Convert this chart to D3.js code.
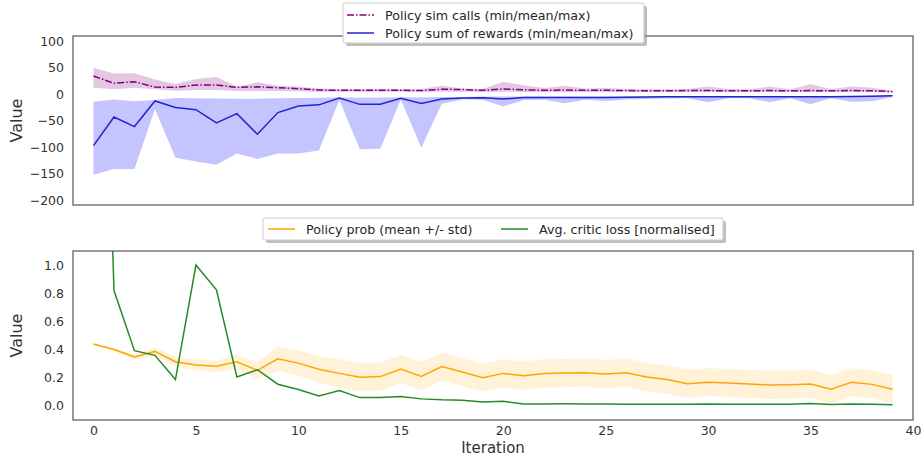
<!DOCTYPE html>
<html>
<head>
<meta charset="utf-8">
<script src="https://cdn.jsdelivr.net/npm/d3@7"></script>
<style>
  body { margin: 0; background: #fff; }
  svg { display: block; font-family: "DejaVu Sans", sans-serif; }
</style>
</head>
<body>
<svg id="chart" width="921" height="456"></svg>
<script>
// values
var iterations = [0, 1, 2, 3, 4, 5, 6, 7, 8, 9, 10, 11, 12, 13, 14, 15, 16, 17, 18, 19,
                  20, 21, 22, 23, 24, 25, 26, 27, 28, 29, 30, 31, 32, 33, 34, 35, 36, 37, 38, 39];

var simMean = [34.5, 20.7, 23.7, 13.7, 13.0, 17.5, 17.5, 13.0, 14.0, 12.5, 10.6, 8.0, 7.5, 7.5, 7.5, 7.5, 7.0, 9.5, 9.0, 7.5,
               10.0, 8.5, 7.5, 8.0, 7.5, 7.5, 7.0, 6.5, 6.5, 7.0, 7.0, 6.5, 6.5, 7.0, 6.5, 7.0, 6.5, 7.0, 6.5, 5.0];
var simMax = [50, 39, 39.5, 28, 19.5, 29, 32.5, 14, 22.5, 16, 14, 11, 10, 10, 10.5, 10, 10, 16, 11, 10,
              23.5, 17, 12, 16, 11, 12, 10, 9.5, 9.5, 10, 14.5, 10, 9.5, 14.5, 9.5, 19, 10, 14.5, 12.5, 6.5];
var simMin = [12.5, 9.5, 12.5, 9.5, 6.5, 8, 8, 6, 6, 6, 5.5, 5, 5, 5, 5, 5, 5, 5, 5, 4.5,
              5, 4.5, 4.5, 4.5, 4.5, 4.5, 4.5, 4.5, 4.5, 4.5, 4.5, 4.5, 4.5, 4.5, 4.5, 4.5, 4.5, 4.5, 4.5, 4];

var rewardMean = [-97, -43, -61, -12.6, -25, -29, -54, -36.5, -75.5, -34.5, -22, -20, -7, -19, -19, -7.5, -17.6, -9, -7, -6.5,
                  -8.8, -6.3, -6.3, -6.3, -6, -6, -5.5, -5, -4.5, -4.5, -4.5, -4.5, -4.5, -4.5, -4.5, -4.5, -4.5, -4, -3.5, -2.6];
var rewardMin = [-152, -141, -141, -28, -120, -127, -133, -112, -122, -112, -112, -106, -10.7, -103.6, -103, -10, -101, -18, -10, -10.5,
                 -23, -11, -10.5, -17, -10.5, -12.6, -10, -9, -8, -7.5, -15, -7.5, -7.5, -15, -7.5, -19, -7.5, -14, -13, -5];
var rewardMax = [-14, -10, -13, -11, -7, -7.5, -8, -8.5, -8.5, -7.5, -7, -6.5, -6, -6, -6, -5.5, -5.5, -5, -5, -4,
                 -4, -4, -4, -4, -4, -4, -4, -4, -3.5, -3.5, -3.5, -3.5, -3.5, -3.5, -3.5, -3.5, -3.5, -3.5, -3, -2];

var probMean = [0.439, 0.401, 0.347, 0.387, 0.314, 0.29, 0.281, 0.314, 0.253, 0.335, 0.304, 0.26, 0.231, 0.203, 0.208, 0.262, 0.21, 0.279, 0.241, 0.2,
                0.231, 0.215, 0.231, 0.233, 0.236, 0.226, 0.236, 0.205, 0.187, 0.158, 0.168, 0.163, 0.156, 0.149, 0.151, 0.156, 0.118, 0.168, 0.153, 0.118];
var probStd = [0.005, 0.01, 0.02, 0.03, 0.035, 0.04, 0.04, 0.05, 0.06, 0.085, 0.09, 0.095, 0.1, 0.1, 0.1, 0.1, 0.1, 0.1, 0.1, 0.1,
               0.1, 0.1, 0.1, 0.1, 0.1, 0.1, 0.1, 0.1, 0.1, 0.1, 0.1, 0.1, 0.1, 0.1, 0.1, 0.1, 0.1, 0.1, 0.1, 0.1];

var criticLoss = [5.5, 0.819, 0.392, 0.359, 0.187, 1.0, 0.824, 0.205, 0.257, 0.154, 0.116, 0.071, 0.109, 0.059, 0.059, 0.066, 0.05, 0.043, 0.04, 0.028,
                  0.033, 0.014, 0.014, 0.015, 0.014, 0.013, 0.012, 0.012, 0.012, 0.012, 0.014, 0.012, 0.012, 0.012, 0.012, 0.017, 0.01, 0.013, 0.011, 0.009];

var topTicks = [100, 50, 0, -50, -100, -150, -200];
var bottomTicks = [0.0, 0.2, 0.4, 0.6, 0.8, 1.0];
var xTicks = [0, 5, 10, 15, 20, 25, 30, 35, 40];

var svg = d3.select('#chart');
var left = 73, right = 913;
var topPanel = {y0: 36, y1: 205};
var botPanel = {y0: 251, y1: 420};

var x = d3.scaleLinear().domain([-1, 40]).range([left, right]);
var yTop = d3.scaleLinear().domain([-209, 110]).range([topPanel.y1, topPanel.y0]);
var yBot = d3.scaleLinear().domain([-0.1, 1.1]).range([botPanel.y1, botPanel.y0]);

var defs = svg.append('defs');
[['clipTop', topPanel], ['clipBot', botPanel]].forEach(function(c) {
    defs.append('clipPath').attr('id', c[0])
        .append('rect')
        .attr('x', left).attr('y', c[1].y0)
        .attr('width', right - left).attr('height', c[1].y1 - c[1].y0);
});

var band = function(y, lo, hi) {
    return d3.area()
        .x(function(i) { return x(iterations[i]); })
        .y0(function(i) { return y(lo(i)); })
        .y1(function(i) { return y(hi(i)); });
};
var line = function(y, vals) {
    return d3.line()
        .x(function(i) { return x(iterations[i]); })
        .y(function(i) { return y(vals[i]); });
};
var idx = iterations.map(function(d, i) { return i; });

// ---- top panel
var gTop = svg.append('g').attr('clip-path', 'url(#clipTop)');
gTop.append('path')
    .attr('d', band(yTop, function(i) { return simMin[i]; }, function(i) { return simMax[i]; })(idx))
    .style('fill', 'purple').style('opacity', 0.22);
gTop.append('path')
    .attr('d', band(yTop, function(i) { return rewardMin[i]; }, function(i) { return rewardMax[i]; })(idx))
    .style('fill', '#0000ff').style('opacity', 0.23);
gTop.append('path')
    .attr('d', line(yTop, simMean)(idx))
    .style('fill', 'none').style('stroke', '#800080').style('stroke-width', 1.5)
    .style('stroke-dasharray', '7,2,1.5,2');
gTop.append('path')
    .attr('d', line(yTop, rewardMean)(idx))
    .style('fill', 'none').style('stroke', '#2323d4').style('stroke-width', 1.5);

// ---- bottom panel
var gBot = svg.append('g').attr('clip-path', 'url(#clipBot)');
gBot.append('path')
    .attr('d', band(yBot, function(i) { return probMean[i] - probStd[i]; }, function(i) { return probMean[i] + probStd[i]; })(idx))
    .style('fill', 'orange').style('opacity', 0.15);
gBot.append('path')
    .attr('d', line(yBot, probMean)(idx))
    .style('fill', 'none').style('stroke', 'orange').style('stroke-width', 1.5);
gBot.append('path')
    .attr('d', line(yBot, criticLoss)(idx))
    .style('fill', 'none').style('stroke', '#268a26').style('stroke-width', 1.5);

// ---- frames and axes
[topPanel, botPanel].forEach(function(p) {
    svg.append('rect')
        .attr('x', left).attr('y', p.y0)
        .attr('width', right - left).attr('height', p.y1 - p.y0)
        .style('fill', 'none').style('stroke', '#555').style('stroke-width', 1.2);
});

var styleAxis = function(g) {
    g.select('.domain').remove();
    g.selectAll('text')
        .style('font-family', '"DejaVu Sans", sans-serif')
        .style('font-size', '12.5px')
        .style('fill', '#333');
};

svg.append('g').attr('transform', 'translate(' + left + ',0)')
    .call(d3.axisLeft(yTop).tickValues(topTicks).tickSize(0).tickPadding(9))
    .call(styleAxis);
svg.append('g').attr('transform', 'translate(' + left + ',0)')
    .call(d3.axisLeft(yBot).tickValues(bottomTicks).tickSize(0).tickPadding(9).tickFormat(d3.format('.1f')))
    .call(styleAxis);
svg.append('g').attr('transform', 'translate(0,' + botPanel.y1 + ')')
    .call(d3.axisBottom(x).tickValues(xTicks).tickSize(0).tickPadding(6))
    .call(styleAxis);

var axisLabel = function(txt, tx, ty, rot, size) {
    svg.append('text')
        .attr('transform', 'translate(' + tx + ',' + ty + ')' + (rot ? ' rotate(-90)' : ''))
        .attr('text-anchor', 'middle')
        .style('font-size', size + 'px')
        .style('fill', '#333')
        .text(txt);
};
axisLabel('Value', 22, (topPanel.y0 + topPanel.y1) / 2, true, 16);
axisLabel('Value', 22, (botPanel.y0 + botPanel.y1) / 2, true, 16);
axisLabel('Iteration', (left + right) / 2, 452.5, false, 15);

// ---- legends
var legend = function(bx, by, bw, bh, items) {
    var g = svg.append('g');
    g.append('rect')
        .attr('x', bx + 3).attr('y', by + 3).attr('width', bw).attr('height', bh)
        .attr('rx', 2)
        .style('fill', '#888').style('opacity', 0.55);
    g.append('rect')
        .attr('x', bx).attr('y', by).attr('width', bw).attr('height', bh)
        .attr('rx', 2)
        .style('fill', '#fff').style('stroke', '#ccc').style('stroke-width', 1);
    items.forEach(function(it) {
        g.append('line')
            .attr('x1', it.hx).attr('x2', it.hx + 27)
            .attr('y1', it.y).attr('y2', it.y)
            .style('stroke', it.color).style('stroke-width', 1.5)
            .style('stroke-dasharray', it.dash || null);
        g.append('text')
            .attr('x', it.hx + 38).attr('y', it.y)
            .attr('dy', '0.36em')
            .style('font-size', '12.7px')
            .style('fill', '#262626')
            .text(it.label);
    });
};

legend(343, 3, 301, 40, [
    {hx: 347, y: 15, color: '#800080', dash: '7,2,1.5,2', label: 'Policy sim calls (min/mean/max)'},
    {hx: 347, y: 33, color: '#2323d4', label: 'Policy sum of rewards (min/mean/max)'}
]);
legend(263, 218, 460, 22, [
    {hx: 268, y: 229, color: 'orange', label: 'Policy prob (mean +/- std)'},
    {hx: 501, y: 229, color: '#268a26', label: 'Avg. critic loss [normalised]'}
]);
</script>
</body>
</html>
